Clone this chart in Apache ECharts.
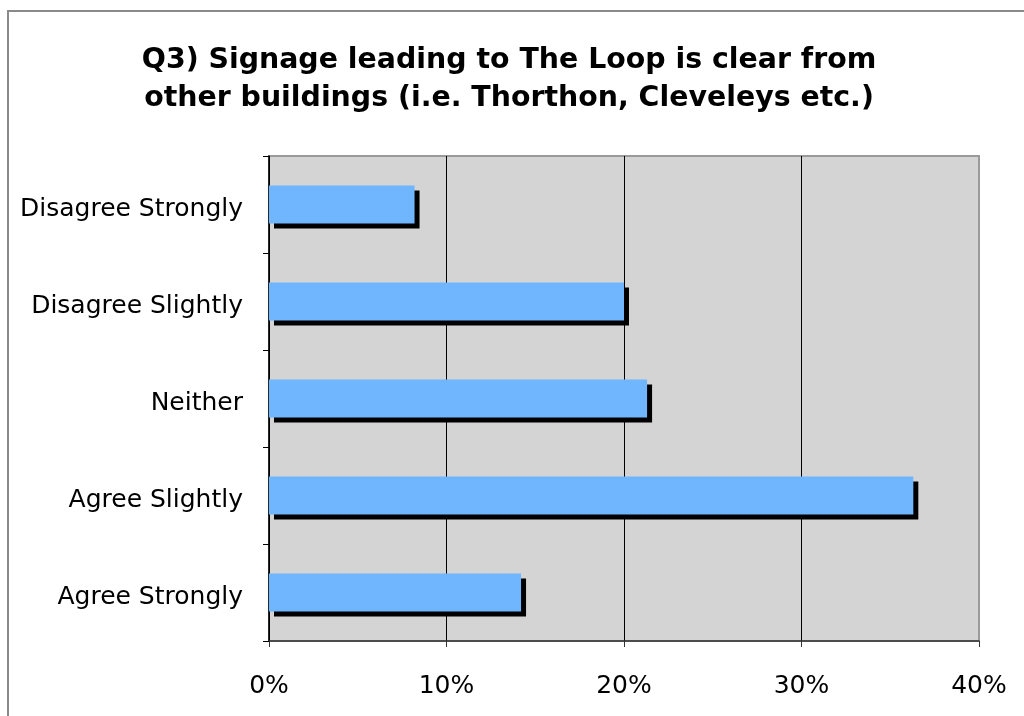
<!DOCTYPE html>
<html>
<head>
<meta charset="utf-8">
<script src="https://cdn.jsdelivr.net/npm/echarts@6/dist/echarts.min.js"></script>
<style>
  html, body { margin: 0; padding: 0; background: #fff; }
  #chart { width: 1024px; height: 716px; }
</style>
</head>
<body>
<div id="chart"></div>
<script>
// Survey responses, top to bottom
const categories = ['Disagree Strongly', 'Disagree Slightly', 'Neither', 'Agree Slightly', 'Agree Strongly'];
// Share of respondents (%)
const shares = [8.2, 20.0, 21.3, 36.3, 14.2];
const titleLines = ['Q3) Signage leading to The Loop is clear from', 'other buildings (i.e. Thorthon, Cleveleys etc.)'];

const FONT = '"DejaVu Sans", Verdana, sans-serif';
const chart = echarts.init(document.getElementById('chart'), null, { renderer: 'canvas' });

chart.setOption({
  backgroundColor: '#fff',
  animation: false,
  title: {
    text: titleLines.join('\n'),
    left: 504,
    top: 37,
    textAlign: 'center',
    textStyle: { fontFamily: FONT, fontWeight: 'bold', fontSize: 28.4, lineHeight: 38, color: '#000' }
  },
  graphic: [{
    type: 'rect',
    shape: { x: 8, y: 11, width: 1100, height: 800 },
    style: { fill: 'none', stroke: '#8a8a8a', lineWidth: 2 },
    silent: true
  }],
  grid: {
    left: 269, right: 45, top: 156, bottom: 75,
    show: true, backgroundColor: '#d4d4d4', borderColor: '#9a9a9a', borderWidth: 2
  },
  xAxis: {
    type: 'value',
    min: 0, max: 40, interval: 10,
    axisLine: { show: true, lineStyle: { color: '#333', width: 1.5 } },
    axisTick: { show: true, inside: false, length: 6, lineStyle: { color: '#333' } },
    axisLabel: { formatter: '{value}%', fontFamily: FONT, fontSize: 25, color: '#000', margin: 33 },
    splitLine: { show: true, lineStyle: { color: ['#000', '#000', '#000', '#000', '#9a9a9a'], width: 1 } }
  },
  yAxis: {
    type: 'category',
    data: categories,
    inverse: true,
    axisLine: { show: true, lineStyle: { color: '#000', width: 1.5 } },
    axisTick: { show: true, inside: false, length: 6, lineStyle: { color: '#000' } },
    axisLabel: {
      margin: 26,
      formatter: v => '{c|' + v + '}',
      rich: { c: { fontFamily: FONT, fontSize: 25, color: '#000', padding: [10, 0, 0, 0] } }
    },
    splitLine: { show: false }
  },
  series: [{
    type: 'bar',
    data: shares,
    barWidth: 38,
    itemStyle: {
      color: '#6fb6ff',
      shadowColor: '#000',
      shadowBlur: 0,
      shadowOffsetX: 5,
      shadowOffsetY: 5
    }
  }]
});
</script>
</body>
</html>
